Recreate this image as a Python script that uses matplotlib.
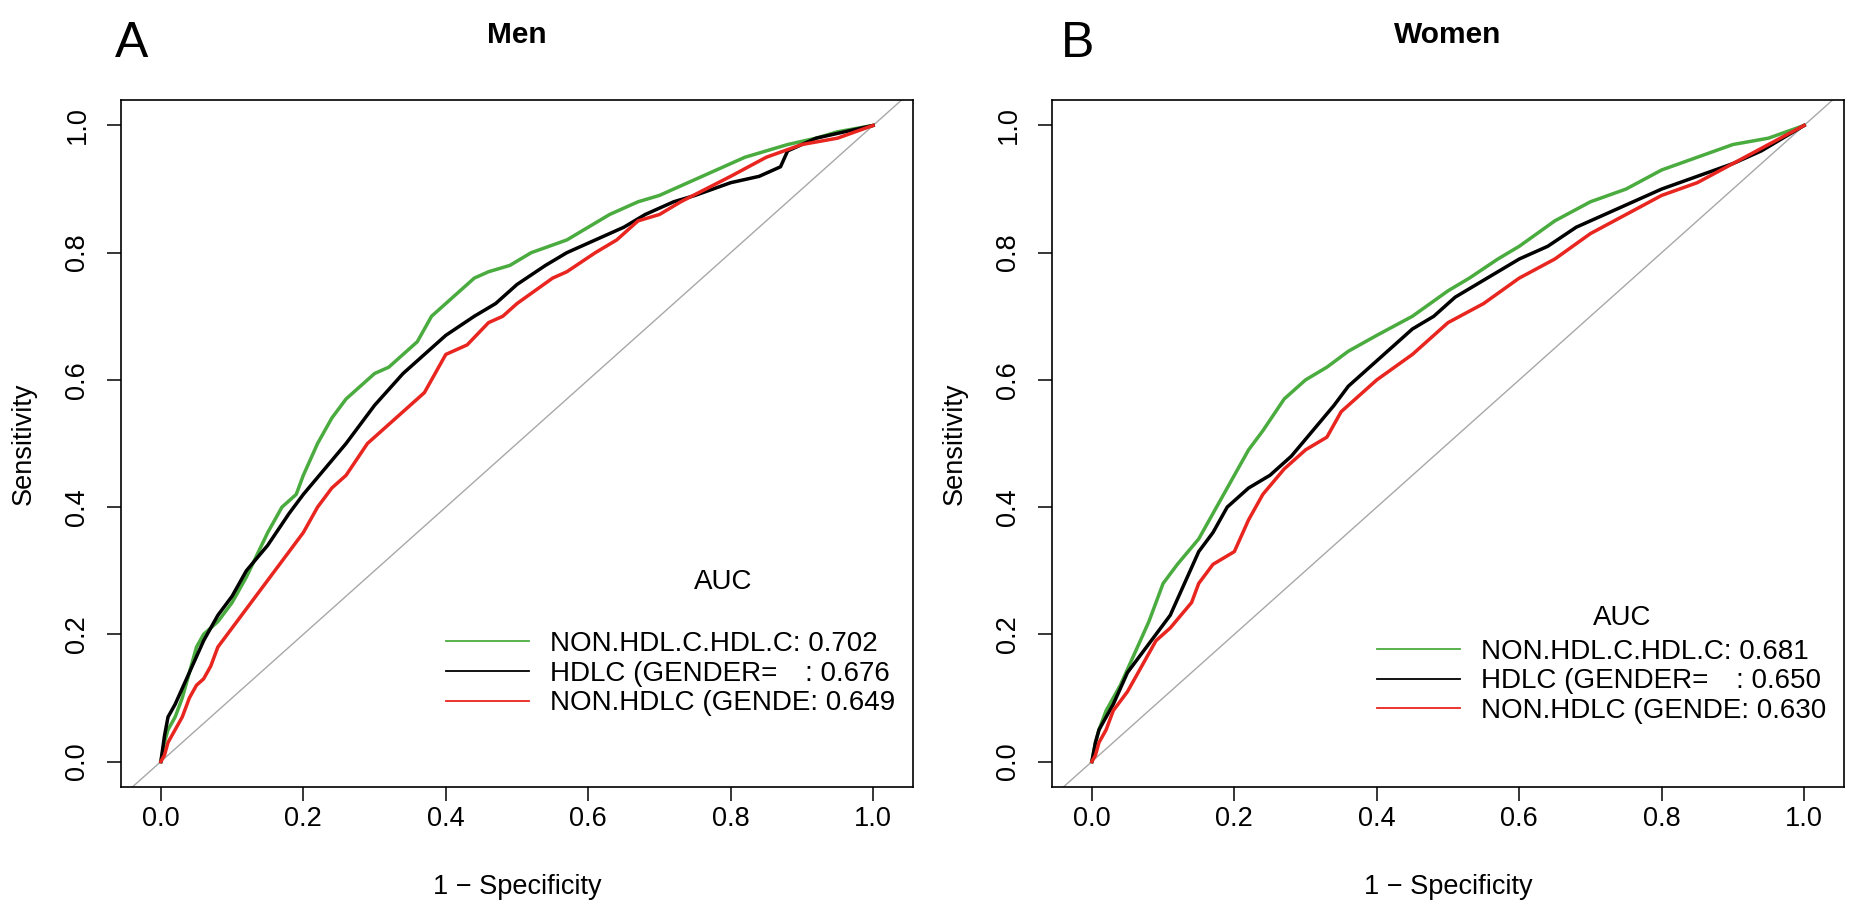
"""
ROC curves for three lipid markers, men vs women (two panels, R/pROC look).
"""

import matplotlib
matplotlib.use("Agg")
import matplotlib.pyplot as plt
from matplotlib.lines import Line2D

plt.rcParams["font.family"] = ["Liberation Sans", "DejaVu Sans"]

FIG_W, FIG_H = 1862, 918
DPI = 100

SERIES_NAMES = ["NON.HDL.C.HDL.C", "HDLC (GENDER=\u2003", "NON.HDLC (GENDE"]
COLORS = ["#4aab3f", "#000000", "#e8251e"]

# ---- Men -------------------------------------------------------------------
MEN_AUC = ["0.702", "0.676", "0.649"]

MEN_GREEN_X = [0, 0.005, 0.01, 0.02, 0.03, 0.04, 0.05, 0.06, 0.08, 0.10, 0.12, 0.15,
               0.17, 0.19, 0.20, 0.22, 0.24, 0.26, 0.28, 0.30, 0.32, 0.34, 0.36, 0.38,
               0.40, 0.42, 0.44, 0.46, 0.49, 0.52, 0.57, 0.60, 0.63, 0.67, 0.70, 0.74,
               0.78, 0.82, 0.85, 0.88, 0.92, 0.95, 1.0]
MEN_GREEN_Y = [0, 0.03, 0.05, 0.07, 0.10, 0.14, 0.18, 0.20, 0.22, 0.25, 0.29, 0.36,
               0.40, 0.42, 0.45, 0.50, 0.54, 0.57, 0.59, 0.61, 0.62, 0.64, 0.66, 0.70,
               0.72, 0.74, 0.76, 0.77, 0.78, 0.80, 0.82, 0.84, 0.86, 0.88, 0.89, 0.91,
               0.93, 0.95, 0.96, 0.97, 0.98, 0.99, 1.0]

MEN_BLACK_X = [0, 0.005, 0.01, 0.02, 0.04, 0.06, 0.08, 0.10, 0.12, 0.15, 0.18, 0.20,
               0.23, 0.26, 0.30, 0.34, 0.37, 0.40, 0.44, 0.47, 0.50, 0.54, 0.57, 0.61,
               0.65, 0.68, 0.72, 0.75, 0.80, 0.84, 0.87, 0.88, 0.92, 0.96, 1.0]
MEN_BLACK_Y = [0, 0.04, 0.07, 0.09, 0.14, 0.19, 0.23, 0.26, 0.30, 0.34, 0.39, 0.42,
               0.46, 0.50, 0.56, 0.61, 0.64, 0.67, 0.70, 0.72, 0.75, 0.78, 0.80, 0.82,
               0.84, 0.86, 0.88, 0.89, 0.91, 0.92, 0.935, 0.96, 0.98, 0.99, 1.0]

MEN_RED_X = [0, 0.005, 0.01, 0.02, 0.03, 0.04, 0.05, 0.06, 0.07, 0.08, 0.10, 0.12,
             0.14, 0.16, 0.18, 0.20, 0.22, 0.24, 0.26, 0.29, 0.32, 0.35, 0.37, 0.39,
             0.40, 0.43, 0.46, 0.48, 0.50, 0.55, 0.57, 0.61, 0.64, 0.67, 0.70, 0.73,
             0.80, 0.85, 0.90, 0.95, 1.0]
MEN_RED_Y = [0, 0.01, 0.03, 0.05, 0.07, 0.10, 0.12, 0.13, 0.15, 0.18, 0.21, 0.24,
             0.27, 0.30, 0.33, 0.36, 0.40, 0.43, 0.45, 0.50, 0.53, 0.56, 0.58, 0.62,
             0.64, 0.655, 0.69, 0.70, 0.72, 0.76, 0.77, 0.80, 0.82, 0.85, 0.86, 0.88,
             0.92, 0.95, 0.97, 0.98, 1.0]

# ---- Women -----------------------------------------------------------------
WOMEN_AUC = ["0.681", "0.650", "0.630"]

WOMEN_GREEN_X = [0, 0.005, 0.01, 0.02, 0.04, 0.06, 0.08, 0.10, 0.12, 0.15, 0.18,
                 0.20, 0.22, 0.24, 0.27, 0.30, 0.33, 0.36, 0.40, 0.45, 0.50, 0.53,
                 0.57, 0.60, 0.65, 0.70, 0.75, 0.80, 0.85, 0.90, 0.95, 1.0]
WOMEN_GREEN_Y = [0, 0.03, 0.05, 0.08, 0.12, 0.17, 0.22, 0.28, 0.31, 0.35, 0.41,
                 0.45, 0.49, 0.52, 0.57, 0.60, 0.62, 0.645, 0.67, 0.70, 0.74, 0.76,
                 0.79, 0.81, 0.85, 0.88, 0.90, 0.93, 0.95, 0.97, 0.98, 1.0]

WOMEN_BLACK_X = [0, 0.005, 0.01, 0.03, 0.05, 0.07, 0.09, 0.11, 0.13, 0.15, 0.17, 0.19,
                 0.22, 0.25, 0.28, 0.31, 0.34, 0.36, 0.39, 0.42, 0.45, 0.48, 0.51, 0.54,
                 0.57, 0.60, 0.64, 0.68, 0.72, 0.76, 0.80, 0.85, 0.90, 0.94, 0.97, 1.0]
WOMEN_BLACK_Y = [0, 0.03, 0.05, 0.09, 0.14, 0.17, 0.20, 0.23, 0.28, 0.33, 0.36, 0.40,
                 0.43, 0.45, 0.48, 0.52, 0.56, 0.59, 0.62, 0.65, 0.68, 0.70, 0.73, 0.75,
                 0.77, 0.79, 0.81, 0.84, 0.86, 0.88, 0.90, 0.92, 0.94, 0.96, 0.98, 1.0]

WOMEN_RED_X = [0, 0.005, 0.01, 0.02, 0.03, 0.05, 0.07, 0.09, 0.11, 0.14, 0.15, 0.17,
               0.20, 0.22, 0.24, 0.27, 0.30, 0.33, 0.35, 0.38, 0.40, 0.45, 0.50, 0.55,
               0.60, 0.65, 0.70, 0.75, 0.80, 0.85, 0.90, 0.95, 1.0]
WOMEN_RED_Y = [0, 0.01, 0.03, 0.05, 0.08, 0.11, 0.15, 0.19, 0.21, 0.25, 0.28, 0.31,
               0.33, 0.38, 0.42, 0.46, 0.49, 0.51, 0.55, 0.58, 0.60, 0.64, 0.69, 0.72,
               0.76, 0.79, 0.83, 0.86, 0.89, 0.91, 0.94, 0.97, 1.0]

TICKS = [0.0, 0.2, 0.4, 0.6, 0.8, 1.0]
TICK_LABELS = ["0.0", "0.2", "0.4", "0.6", "0.8", "1.0"]

FS = 19.5          # axis / tick font size (pt)
FS_LEG = 20        # legend font size (pt)
XLIM = (-0.056, 1.056)
YLIM = (-0.04, 1.04)


def px_rect(left, top, right, bottom):
    """Pixel box (from top-left) -> figure fraction rect."""
    return [left / FIG_W, 1 - bottom / FIG_H, (right - left) / FIG_W, (bottom - top) / FIG_H]


def draw_panel(ax, curves, aucs, title, letter, letter_x, legend_top, auc_xy):
    ax.axline((0, 0), slope=1, color="#a8a8a8", lw=1.0, zorder=1)
    for (xs, ys), col in zip(curves, COLORS):
        ax.plot(xs, ys, color=col, lw=2.5, solid_joinstyle="round", zorder=3)

    ax.set_xlim(*XLIM)
    ax.set_ylim(*YLIM)
    ax.set_xticks(TICKS)
    ax.set_xticklabels(TICK_LABELS)
    ax.set_yticks(TICKS)
    ax.set_yticklabels(TICK_LABELS, rotation=90, va="center")
    ax.tick_params(direction="out", length=10, width=1.1, labelsize=FS)
    ax.tick_params(axis="x", pad=4)
    ax.tick_params(axis="y", pad=12)
    for sp in ax.spines.values():
        sp.set_linewidth(1.2)

    ax.set_xlabel("1 \u2212 Specificity", fontsize=FS)
    ax.xaxis.set_label_coords(0.5, -0.156)
    ax.xaxis.label.set_va("baseline")
    ax.set_ylabel("Sensitivity", fontsize=FS)
    ax.yaxis.set_label_coords(-0.107, 0.5)

    handles = [Line2D([], [], color=c, lw=1.3) for c in COLORS]
    labels = [f"{n}: {a}" for n, a in zip(SERIES_NAMES, aucs)]
    ax.legend(handles, labels, loc="upper left", bbox_to_anchor=(0.40, legend_top),
              bbox_transform=ax.transData, frameon=False, fontsize=FS_LEG,
              borderpad=0, borderaxespad=0, handlelength=3.0, handletextpad=0.74,
              labelspacing=0.13)
    ax.text(auc_xy[0], auc_xy[1], "AUC", fontsize=FS_LEG, ha="center", va="center")

    bb = ax.get_position()
    fig = ax.figure
    fig.text((bb.x0 + bb.x1) / 2, 1 - 43 / FIG_H, title, fontsize=21.5,
             fontweight="bold", ha="center", va="baseline")
    fig.text(letter_x / FIG_W, 1 - 57 / FIG_H, letter, fontsize=36,
             ha="left", va="baseline")


def main():
    fig = plt.figure(figsize=(FIG_W / DPI, FIG_H / DPI), dpi=DPI)
    ax_m = fig.add_axes(px_rect(121, 100, 913, 787))
    ax_w = fig.add_axes(px_rect(1052, 100, 1844, 787))

    draw_panel(ax_m,
               [(MEN_GREEN_X, MEN_GREEN_Y), (MEN_BLACK_X, MEN_BLACK_Y), (MEN_RED_X, MEN_RED_Y)],
               MEN_AUC, "Men", "A", 115, legend_top=0.205, auc_xy=(0.79, 0.282))
    draw_panel(ax_w,
               [(WOMEN_GREEN_X, WOMEN_GREEN_Y), (WOMEN_BLACK_X, WOMEN_BLACK_Y),
                (WOMEN_RED_X, WOMEN_RED_Y)],
               WOMEN_AUC, "Women", "B", 1061, legend_top=0.193, auc_xy=(0.745, 0.226))

    fig.savefig("out.png", dpi=DPI)


if __name__ == "__main__":
    main()
